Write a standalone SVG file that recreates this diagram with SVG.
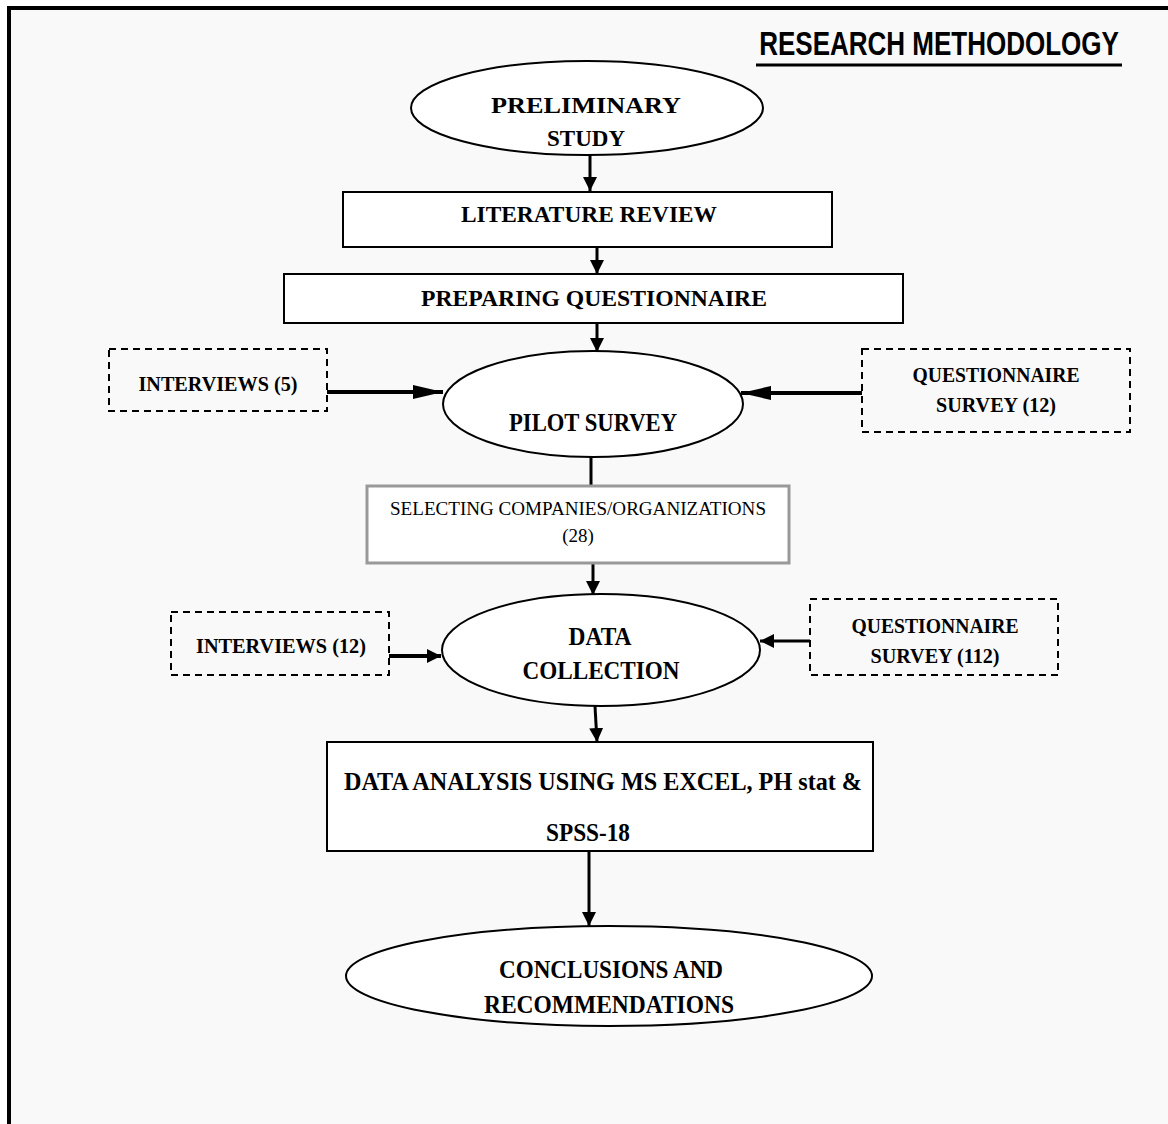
<svg xmlns="http://www.w3.org/2000/svg" width="1168" height="1124" viewBox="0 0 1168 1124">
<defs>
<style>
.t{font-family:"Liberation Serif","Times New Roman",serif;font-weight:bold;fill:#000;text-anchor:middle}
.r{font-family:"Liberation Serif","Times New Roman",serif;font-weight:normal;fill:#000;text-anchor:middle}
.box{fill:#fff;stroke:#000;stroke-width:2}
.ell{fill:#fff;stroke:#000;stroke-width:2}
.dash{fill:none;stroke:#000;stroke-width:2;stroke-dasharray:7,5}
.ln{stroke:#000;fill:none}
</style>
<marker id="ah" markerUnits="userSpaceOnUse" markerWidth="14" markerHeight="16" refX="14" refY="7" orient="auto"><path d="M0,0 L14,7 L0,14 z" fill="#000"/></marker>
<marker id="ahL" markerUnits="userSpaceOnUse" markerWidth="32" markerHeight="16" refX="30" refY="7" orient="auto"><path d="M0,0 L30,7 L0,14 z" fill="#000"/></marker>
</defs>
<rect x="0" y="0" width="1168" height="1124" fill="#fff"/>
<rect x="9" y="8" width="1159" height="1116" fill="#f9f9f9"/>
<line x1="7" y1="8" x2="1168" y2="8" stroke="#000" stroke-width="4"/>
<line x1="9" y1="6" x2="9" y2="1124" stroke="#000" stroke-width="4"/>

<g id="title">
<text transform="translate(939,55) scale(1,1.25)" text-anchor="middle" font-family="'Liberation Sans',Arial,sans-serif" font-weight="bold" font-size="26">RESEARCH  METHODOLOGY</text>
<line x1="756" y1="65" x2="1122" y2="65" stroke="#000" stroke-width="3"/>
</g>

<g id="connectors">
<line class="ln" x1="590" y1="155" x2="590" y2="191" stroke-width="3" marker-end="url(#ah)"/>
<line class="ln" x1="597" y1="247" x2="597" y2="274" stroke-width="3" marker-end="url(#ah)"/>
<line class="ln" x1="597" y1="323" x2="597" y2="352" stroke-width="3" marker-end="url(#ah)"/>
<line class="ln" x1="591" y1="457" x2="591" y2="486" stroke-width="3"/>
<line class="ln" x1="593" y1="563" x2="593" y2="595" stroke-width="3" marker-end="url(#ah)"/>
<line class="ln" x1="595" y1="706" x2="597" y2="742" stroke-width="3" marker-end="url(#ah)"/>
<line class="ln" x1="589" y1="851" x2="589" y2="926" stroke-width="3" marker-end="url(#ah)"/>
<line class="ln" x1="327" y1="392" x2="443" y2="392" stroke-width="4" marker-end="url(#ahL)"/>
<line class="ln" x1="862" y1="393" x2="741" y2="393" stroke-width="4" marker-end="url(#ahL)"/>
<line class="ln" x1="389" y1="656" x2="441" y2="656" stroke-width="4" marker-end="url(#ah)"/>
<line class="ln" x1="810" y1="641" x2="760" y2="641" stroke-width="3" marker-end="url(#ah)"/>
</g>

<g id="preliminary">
<ellipse class="ell" cx="587" cy="108" rx="176" ry="47"/>
<text class="t" x="586" y="113" font-size="24" textLength="190" lengthAdjust="spacingAndGlyphs">PRELIMINARY</text>
<text class="t" x="586" y="146" font-size="24" textLength="78" lengthAdjust="spacingAndGlyphs">STUDY</text>
</g>

<g id="literature">
<rect class="box" x="343" y="192" width="489" height="55"/>
<text class="t" x="589" y="222" font-size="23" textLength="256" lengthAdjust="spacingAndGlyphs">LITERATURE  REVIEW</text>
</g>

<g id="questionnaire">
<rect class="box" x="284" y="274" width="619" height="49"/>
<text class="t" x="594" y="306" font-size="23" textLength="346" lengthAdjust="spacingAndGlyphs">PREPARING  QUESTIONNAIRE</text>
</g>

<g id="interviews5">
<rect class="dash" x="109" y="349" width="218" height="62"/>
<text class="t" x="218" y="391" font-size="22" textLength="159" lengthAdjust="spacingAndGlyphs">INTERVIEWS  (5)</text>
</g>

<g id="qsurvey12">
<rect class="dash" x="862" y="349" width="268" height="83"/>
<text class="t" x="996" y="382" font-size="22" textLength="167" lengthAdjust="spacingAndGlyphs">QUESTIONNAIRE</text>
<text class="t" x="996" y="412" font-size="22" textLength="120" lengthAdjust="spacingAndGlyphs">SURVEY  (12)</text>
</g>

<g id="pilot">
<ellipse class="ell" cx="593" cy="404" rx="150" ry="53"/>
<text class="t" x="593" y="431" font-size="25" textLength="168" lengthAdjust="spacingAndGlyphs">PILOT SURVEY</text>
</g>

<g id="selecting">
<rect x="367" y="486" width="422" height="77" fill="#fff" stroke="#999" stroke-width="3"/>
<text class="r" x="578" y="515" font-size="19" textLength="376" lengthAdjust="spacingAndGlyphs">SELECTING COMPANIES/ORGANIZATIONS</text>
<text class="r" x="578" y="542" font-size="19">(28)</text>
</g>

<g id="interviews12">
<rect class="dash" x="171" y="612" width="218" height="63"/>
<text class="t" x="281" y="653" font-size="22" textLength="170" lengthAdjust="spacingAndGlyphs">INTERVIEWS  (12)</text>
</g>

<g id="qsurvey112">
<rect class="dash" x="810" y="599" width="248" height="76"/>
<text class="t" x="935" y="633" font-size="22" textLength="167" lengthAdjust="spacingAndGlyphs">QUESTIONNAIRE</text>
<text class="t" x="935" y="663" font-size="22" textLength="129" lengthAdjust="spacingAndGlyphs">SURVEY  (112)</text>
</g>

<g id="datacollection">
<ellipse class="ell" cx="601" cy="650" rx="159" ry="56"/>
<text class="t" x="600" y="645" font-size="25" textLength="63" lengthAdjust="spacingAndGlyphs">DATA</text>
<text class="t" x="601" y="679" font-size="25" textLength="157" lengthAdjust="spacingAndGlyphs">COLLECTION</text>
</g>

<g id="analysis">
<rect class="box" x="327" y="742" width="546" height="109"/>
<text class="t" x="603" y="790" font-size="26" textLength="518" lengthAdjust="spacingAndGlyphs">DATA  ANALYSIS  USING  MS  EXCEL,  PH stat &amp;</text>
<text class="t" x="588" y="841" font-size="26" textLength="84" lengthAdjust="spacingAndGlyphs">SPSS-18</text>
</g>

<g id="conclusions">
<ellipse class="ell" cx="609" cy="976" rx="263" ry="50"/>
<text class="t" x="611" y="978" font-size="26" textLength="224" lengthAdjust="spacingAndGlyphs">CONCLUSIONS  AND</text>
<text class="t" x="609" y="1013" font-size="26" textLength="250" lengthAdjust="spacingAndGlyphs">RECOMMENDATIONS</text>
</g>
</svg>
